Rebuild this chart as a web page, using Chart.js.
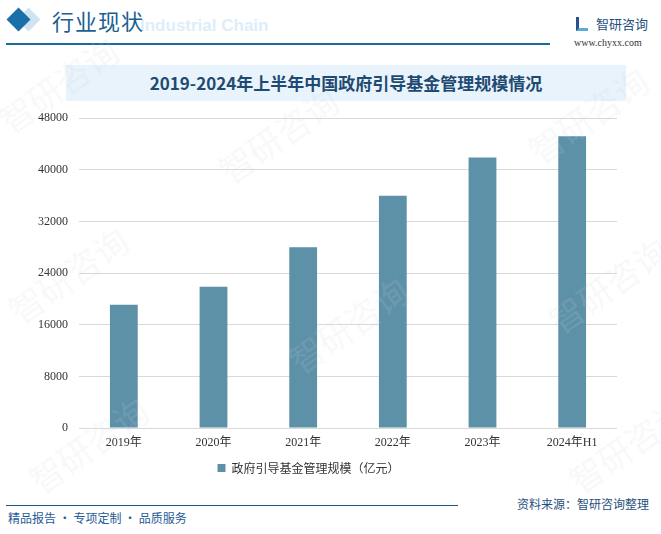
<!DOCTYPE html>
<html>
<head>
<meta charset="utf-8">
<script src="https://cdn.jsdelivr.net/npm/chart.js@4"></script>
<style>
    body { margin: 0; width: 661px; height: 534px; background: #fff; position: relative; overflow: hidden; font-family: "Noto Sans CJK SC", sans-serif; }
    .abs { position: absolute; white-space: nowrap; }
    #diamond1 { left: 10px; top: 11px; width: 17px; height: 17px; background: #1b6fa8; transform: rotate(45deg); }
    #diamond2 { left: 20px; top: 11px; width: 17px; height: 17px; background: #cfe4f3; transform: rotate(45deg); z-index: -1; }
    #head { left: 52px; top: 4px; font-size: 22px; color: #1b5f93; letter-spacing: 1px; }
    #headBg { left: 140px; top: 16px; font: bold 17px "Liberation Sans", Arial, sans-serif; color: #ddeefa; z-index: -1; }
    #headLine { left: 6px; top: 43px; width: 544px; height: 2px; background: #1b6aa0; }
    #logo { left: 596px; top: 14px; font-size: 13px; color: #1f4f7e; }
    #logoMark { left: 576px; top: 17px; width: 12px; height: 14px; border-left: 3px solid #2a4f8f; border-bottom: 3px solid #5fa8dc; box-sizing: border-box; }
    #url { left: 574px; top: 37px; font: 10px "Liberation Serif", serif; color: #333; }
    #titleBand { left: 66px; top: 65px; width: 560px; height: 36px; background: #e8f3fb; }
    #title { left: 66px; top: 65px; width: 560px; height: 36px; line-height: 36px; text-align: center; font-size: 17px; font-weight: bold; color: #1f4a72; }
    #chartBox { left: 0; top: 100px; width: 661px; height: 392px; }
    #footLine { left: 6px; top: 505px; width: 452px; height: 1px; background: #1b5a8c; }
    #foot { left: 8px; top: 509px; font-size: 12px; color: #1f5c96; }
    #source { right: 12px; top: 495px; font-size: 12px; color: #1f4f7e; }
    .wm { position: absolute; font-size: 34px; color: rgba(200, 210, 220, 0.15); transform: rotate(-35deg); white-space: nowrap; z-index: 5; pointer-events: none; }
</style>
</head>
<body>
<div class="abs" id="diamond2"></div>
<div class="abs" id="diamond1"></div>
<div class="abs" id="headBg">Industrial Chain</div>
<div class="abs" id="head">行业现状</div>
<div class="abs" id="headLine"></div>
<div class="abs" id="logoMark"></div>
<div class="abs" id="logo">智研咨询</div>
<div class="abs" id="url">www.chyxx.com</div>
<div class="abs" id="titleBand"></div>
<div class="abs" id="title">2019-2024年上半年中国政府引导基金管理规模情况</div>
<div class="abs" id="chartBox"><canvas id="chart"></canvas></div>
<div class="abs" id="footLine"></div>
<div class="abs" id="foot">精品报告 · 专项定制 · 品质服务</div>
<div class="abs" id="source">资料来源：智研咨询整理</div>

<div class="wm" style="left:-10px; top:60px;">智研咨询</div>
<div class="wm" style="left:210px; top:110px;">智研咨询</div>
<div class="wm" style="left:520px; top:90px;">智研咨询</div>
<div class="wm" style="left:0px; top:250px;">智研咨询</div>
<div class="wm" style="left:280px; top:300px;">智研咨询</div>
<div class="wm" style="left:540px; top:260px;">智研咨询</div>
<div class="wm" style="left:20px; top:420px;">智研咨询</div>
<div class="wm" style="left:560px; top:420px;">智研咨询</div>

<script>
// Data
const years = ['2019年', '2020年', '2021年', '2022年', '2023年', '2024年H1'];
const fundScale = [19100, 21900, 28000, 36000, 41900, 45200];
const yTicks = [0, 8000, 16000, 24000, 32000, 40000, 48000];
const seriesName = '政府引导基金管理规模（亿元）';

const tickFont = { family: '"Liberation Serif", "Noto Sans CJK SC", serif', size: 12 };

const ctx = document.getElementById('chart').getContext('2d');
const chart = new Chart(ctx, {
    type: 'bar',
    data: {
        labels: years,
        datasets: [{
            label: seriesName,
            data: fundScale,
            backgroundColor: '#5d91a8',
            barPercentage: 0.62,
            categoryPercentage: 0.5
        }]
    },
    options: {
        responsive: true,
        maintainAspectRatio: false,
        animation: false,
        layout: { padding: { left: 0, right: 44, top: 18, bottom: 8 } },
        plugins: {
            tooltip: { enabled: false },
            legend: {
                position: 'bottom',
                labels: {
                    color: '#333',
                    font: { family: '"Noto Sans CJK SC", sans-serif', size: 12 },
                    boxWidth: 8,
                    boxHeight: 8,
                    padding: 8
                }
            }
        },
        scales: {
            x: {
                grid: { display: false },
                border: { display: false },
                ticks: { color: '#333', font: tickFont, padding: 0, maxRotation: 0 },
                afterFit: (axis) => { axis.height = 26; }
            },
            y: {
                min: 0,
                max: 48000,
                afterBuildTicks: (axis) => { axis.ticks = yTicks.map(v => ({ value: v })); },
                grid: { color: '#d9d9d9', drawTicks: false },
                border: { display: false },
                ticks: { color: '#333', font: tickFont, padding: 11, callback: (v) => String(v) },
                afterFit: (axis) => { axis.width = 79; }
            }
        }
    }
});
</script>
</body>
</html>
